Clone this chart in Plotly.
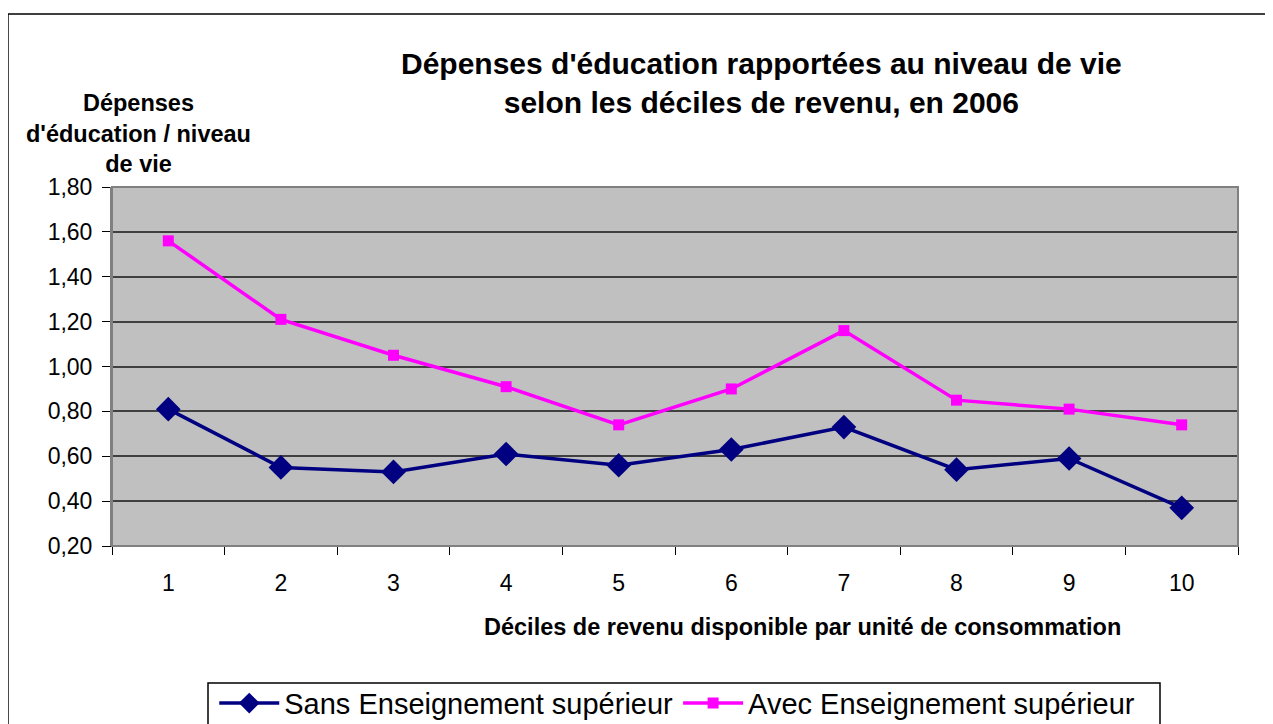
import plotly.graph_objects as go

deciles = ['1', '2', '3', '4', '5', '6', '7', '8', '9', '10']
sans_sup = [0.81, 0.55, 0.53, 0.61, 0.56, 0.63, 0.73, 0.54, 0.59, 0.37]
avec_sup = [1.56, 1.21, 1.05, 0.91, 0.74, 0.90, 1.16, 0.85, 0.81, 0.74]
y_ticks = [0.2, 0.4, 0.6, 0.8, 1.0, 1.2, 1.4, 1.6, 1.8]

font = 'Liberation Sans, Arial, sans-serif'

trace_sans = go.Scatter(x=deciles, y=sans_sup, name='Sans Enseignement supérieur',
                        mode='lines+markers',
                        line=dict(color='#000080', width=3.5),
                        marker=dict(symbol='diamond', size=19, color='#000080'))
trace_avec = go.Scatter(x=deciles, y=avec_sup, name='Avec Enseignement supérieur',
                        mode='lines+markers',
                        line=dict(color='#FF00FF', width=3.5),
                        marker=dict(symbol='square', size=11, color='#FF00FF'))

# page has an 8px body margin, so the figure is 8px smaller and margins shifted by 8
layout = go.Layout(
    width=1265, height=716,
    margin=dict(l=104, r=35, t=179, b=178, autoexpand=False),
    paper_bgcolor='white', plot_bgcolor='#C0C0C0',
    separators=', ',
    font=dict(family=font, color='black'),
    showlegend=True,
    legend=dict(orientation='h', x=0.502, xanchor='center', y=-0.367, yanchor='top',
                borderwidth=0, bgcolor='rgba(0,0,0,0)',
                font=dict(size=29, family=font), itemwidth=60, tracegroupgap=0),
    xaxis=dict(type='category', tickson='boundaries', ticks='outside', ticklen=8,
               tickcolor='black', showgrid=False, showline=True, linecolor='black',
               linewidth=1, mirror=False, tickfont=dict(size=23), range=[-0.5, 9.5],
               ticklabelstandoff=16),
    yaxis=dict(range=[0.2, 1.8], tickvals=y_ticks, tickformat='.2f', ticks='outside',
               ticklen=8, tickcolor='black', showgrid=True, gridcolor='#404040',
               gridwidth=1.5, showline=True, linecolor='#808080', linewidth=2,
               zeroline=False, tickfont=dict(size=23), ticklabelstandoff=5),
    shapes=[
        dict(type='rect', xref='paper', yref='paper', x0=0, x1=1, y0=0, y1=1,
             line=dict(color='#808080', width=2)),
        dict(type='rect', xref='paper', yref='paper', x0=-0.0924, x1=1.035,
             y0=-0.52, y1=1.4819, line=dict(color='black', width=1.5)),
        # legend frame, running past the bottom edge as in the reference
        dict(type='rect', xref='paper', yref='paper', x0=(208 - 112) / 1126,
             x1=(1160 - 112) / 1126, y0=-0.53, y1=(546 - 683) / 359,
             line=dict(color='black', width=1.5)),
    ],
    annotations=[
        dict(text="<b>Dépenses d'éducation rapportées au niveau de vie<br>selon les déciles de revenu, en 2006</b>",
             xref='paper', yref='paper', x=(761 - 112) / 1126, y=(546 - 83) / 359,
             xanchor='center', yanchor='middle', showarrow=False,
             font=dict(size=30, family=font), align='center'),
        dict(text="<b>Dépenses<br>d'éducation / niveau<br>de vie</b>",
             xref='paper', yref='paper', x=(138 - 112) / 1126, y=(546 - 133) / 359,
             xanchor='center', yanchor='middle', showarrow=False,
             font=dict(size=23.5, family=font), align='center'),
        dict(text="<b>Déciles de revenu disponible par unité de consommation</b>",
             xref='paper', yref='paper', x=(803 - 112) / 1126, y=(546 - 627) / 359,
             xanchor='center', yanchor='middle', showarrow=False,
             font=dict(size=23.5, family=font)),
    ],
)

fig = go.Figure(data=[trace_sans, trace_avec], layout=layout)
fig.write_html("out.html")
